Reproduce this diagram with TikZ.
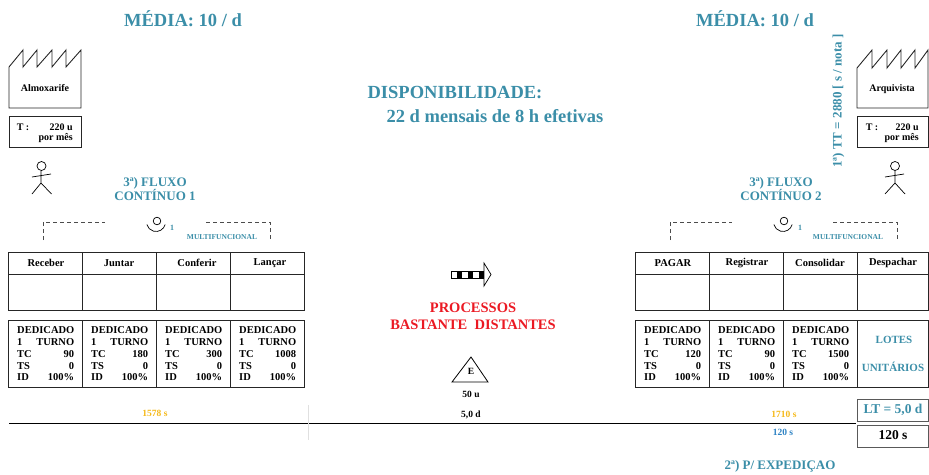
\documentclass[tikz,border=0pt]{standalone}
\usepackage{fontspec}
\setmainfont{Liberation Serif}
\definecolor{tealA}{RGB}{59,142,168}
\definecolor{redA}{RGB}{235,25,35}
\definecolor{yelA}{RGB}{245,185,25}
\definecolor{bluA}{RGB}{45,130,195}
\newcommand{\dline}[2]{\makebox[57pt]{#1\hfill#2}}
\begin{document}
\begin{tikzpicture}[x=1pt,y=-1pt,
  every node/.style={inner sep=0pt},
  bigteal/.style={text=tealA,font=\fontsize{18.5}{21}\selectfont\bfseries},
  midteal/.style={text=tealA,font=\fontsize{13}{15}\selectfont\bfseries},
  smallblack/.style={font=\fontsize{10}{11}\selectfont\bfseries},
  hdr/.style={font=\fontsize{10.5}{12}\selectfont\bfseries},
  datatext/.style={font=\fontsize{10.5}{11.8}\selectfont\bfseries,align=left,anchor=north west},
  multi/.style={text=tealA,font=\fontsize{7.5}{9}\selectfont\bfseries},
  redtxt/.style={text=redA,font=\fontsize{14.5}{17}\selectfont\bfseries},
  boxline/.style={draw=black!85,line width=0.9pt},
  dashline/.style={draw=black!70,line width=0.7pt,dash pattern=on 4pt off 3pt},
  fig/.style={draw=black,line width=0.7pt}]
\useasboundingbox (0,0) rectangle (929,474);

% titles
\node[bigteal] (media1) at (183,19) {MÉDIA: 10 / d};
\node[bigteal] (media2) at (755,19) {MÉDIA: 10 / d};
\node[bigteal] (disp) at (455,93) {DISPONIBILIDADE:};
\node[bigteal] (disp2) at (495,116) {22 d mensais de 8 h efetivas};
\node[midteal,rotate=90] (tt) at (838.5,101) {1ª) TT = 2880 [ s / nota ]};

% factories
\draw[boxline] (9,108) -- (9,67) -- (23,50) -- (23,67) -- (37,50) -- (37,67) -- (52,50) -- (52,67) -- (66,50) -- (66,67) -- (81,50) -- (81,108) -- cycle;
\node[smallblack] (almox) at (45,88) {Almoxarife};
\draw[boxline] (857,108) -- (857,68) -- (872,50) -- (872,68) -- (887,50) -- (887,68) -- (901,50) -- (901,68) -- (915,50) -- (915,68) -- (928,50) -- (928,108) -- cycle;
\node[smallblack] (arq) at (892,89) {Arquivista};

% T boxes
\draw[boxline] (9,116) rectangle (81,147);
\node[smallblack] (t1a) at (23,127) {T :};
\node[smallblack,anchor=east] (t1b) at (73,127) {220 u};
\node[smallblack,anchor=east] (t1c) at (73,138.5) {por mês};
\draw[boxline] (857,116) rectangle (928,147);
\node[smallblack] (t2a) at (872,127) {T :};
\node[smallblack,anchor=east] (t2b) at (919,127) {220 u};
\node[smallblack,anchor=east] (t2c) at (919,138.5) {por mês};

% stick figures
\draw[fig] (41.5,166) circle (4.5);
\draw[fig] (41,170.5) -- (41,183) (32,177) -- (51,174) (41,183) -- (32,194) (41,183) -- (51.5,194);
\draw[fig] (895,166) circle (4.5);
\draw[fig] (895,170.5) -- (895,183) (885,177) -- (904,174) (895,183) -- (885,194) (895,183) -- (905,194);

% flow labels
\node[midteal,align=center] (fl1) at (155,189) {3ª) FLUXO\\[-1pt]CONTÍNUO 1};
\node[midteal,align=center] (fl2) at (781,189) {3ª) FLUXO\\[-1pt]CONTÍNUO 2};

% dashed brackets & operators
\draw[dashline] (43,240) -- (43,222) -- (105,222);
\draw[dashline] (206,222) -- (270,222) -- (270,240);
\draw[fig] (157,221) circle (3.8);
\draw[fig] ([shift={(15:9.5)}]156,222) arc[start angle=15,end angle=165,radius=9.5];
\node[multi,font=\fontsize{8}{9}\selectfont\bfseries] (one1) at (172,228) {1};
\node[multi] (mf1) at (222,237.5) {MULTIFUNCIONAL};

\draw[dashline] (670,240) -- (670,222) -- (732,222);
\draw[dashline] (833,222) -- (897,222) -- (897,240);
\draw[fig] (784,221) circle (3.8);
\draw[fig] ([shift={(15:9.5)}]783,222) arc[start angle=15,end angle=165,radius=9.5];
\node[multi,font=\fontsize{8}{9}\selectfont\bfseries] (one2) at (800,228) {1};
\node[multi] (mf2) at (848,237.5) {MULTIFUNCIONAL};

% process boxes left
\foreach \a/\b in {8/82,82/156,156/230,230/304} {
  \draw[boxline] (\a,252) rectangle (\b,310);
  \draw[boxline] (\a,274) -- (\b,274);
  \draw[boxline] (\a,320) rectangle (\b,387);
}
\node[hdr] (p1) at (46,263) {Receber};
\node[hdr] (p2) at (119,263) {Juntar};
\node[hdr] (p3) at (197,263) {Conferir};
\node[hdr] (p4) at (270,263) {Lançar};
\node[datatext] (d1) at (17,326.5) {DEDICADO\\\dline{1}{TURNO}\\\dline{TC}{90}\\\dline{TS}{0}\\\dline{ID}{100\%}};
\node[datatext] (d2) at (91,326.5) {DEDICADO\\\dline{1}{TURNO}\\\dline{TC}{180}\\\dline{TS}{0}\\\dline{ID}{100\%}};
\node[datatext] (d3) at (165,326.5) {DEDICADO\\\dline{1}{TURNO}\\\dline{TC}{300}\\\dline{TS}{0}\\\dline{ID}{100\%}};
\node[datatext] (d4) at (239,326.5) {DEDICADO\\\dline{1}{TURNO}\\\dline{TC}{1008}\\\dline{TS}{0}\\\dline{ID}{100\%}};

% process boxes right
\foreach \a/\b in {635/709,709/783,783/857,857/928.5} {
  \draw[boxline] (\a,252) rectangle (\b,310);
  \draw[boxline] (\a,274) -- (\b,274);
  \draw[boxline] (\a,320) rectangle (\b,387);
}
\node[hdr] (q1) at (673,263) {PAGAR};
\node[hdr] (q2) at (747,263) {Registrar};
\node[hdr] (q3) at (820,263) {Consolidar};
\node[hdr] (q4) at (893,263) {Despachar};
\node[datatext] (e1) at (644,326.5) {DEDICADO\\\dline{1}{TURNO}\\\dline{TC}{120}\\\dline{TS}{0}\\\dline{ID}{100\%}};
\node[datatext] (e2) at (718,326.5) {DEDICADO\\\dline{1}{TURNO}\\\dline{TC}{90}\\\dline{TS}{0}\\\dline{ID}{100\%}};
\node[datatext] (e3) at (792,326.5) {DEDICADO\\\dline{1}{TURNO}\\\dline{TC}{1500}\\\dline{TS}{0}\\\dline{ID}{100\%}};
\node[text=tealA,font=\fontsize{11}{13}\selectfont\bfseries] (lotes) at (894,340) {LOTES};
\node[text=tealA,font=\fontsize{11}{13}\selectfont\bfseries] (unit) at (893,366.5) {UNITÁRIOS};

% push arrow
\draw[line width=0.7pt,fill=white] (451,271) rectangle (484,278);
\foreach \i in {1,3,5} { \fill (451+\i*5.5,271) rectangle ++(5.5,7); }
\draw[line width=0.7pt,fill=white] (484,263) -- (491,274.5) -- (484,286) -- cycle;
\coordinate (pushtip) at (491,274.5);

% red text
\node[redtxt] (proc) at (473,308) {PROCESSOS};
\node[redtxt] (bast) at (473,325) {BASTANTE\ \ DISTANTES};

% inventory triangle
\draw[fig,line width=0.8pt] (471,357) -- (488,382) -- (452,382) -- cycle;
\node[font=\fontsize{9.5}{10}\selectfont\bfseries] (E) at (471,371) {E};
\node[font=\fontsize{9.5}{10}\selectfont\bfseries] (fifty) at (471,394) {50 u};
\node[font=\fontsize{9.5}{10}\selectfont\bfseries] (fived) at (471,414.5) {5,0 d};

% timeline
\draw[line width=1pt] (9,423) -- (856,423);
\draw[black!12,line width=0.6pt] (308,405) -- (308,440);
\node[text=yelA,font=\fontsize{9.5}{11}\selectfont\bfseries] (t1578) at (155,413) {1578 s};
\node[text=yelA,font=\fontsize{9.5}{11}\selectfont\bfseries] (t1710) at (784,414) {1710 s};
\node[text=bluA,font=\fontsize{9.5}{11}\selectfont\bfseries] (t120) at (783,432) {120 s};

% LT boxes
\draw[draw=black!65,line width=0.9pt] (857,399) rectangle (928.5,421);
\node[text=tealA,font=\fontsize{13.5}{15}\selectfont\bfseries] (lt) at (893,410) {LT = 5,0 d};
\draw[draw=black!65,line width=0.9pt] (857,425) rectangle (928.5,447);
\node[font=\fontsize{13.5}{15}\selectfont\bfseries] (lt120) at (893,435.5) {120 s};

\node[midteal] (exped) at (780,466) {2ª) P/ EXPEDIÇAO};
\end{tikzpicture}
\end{document}
